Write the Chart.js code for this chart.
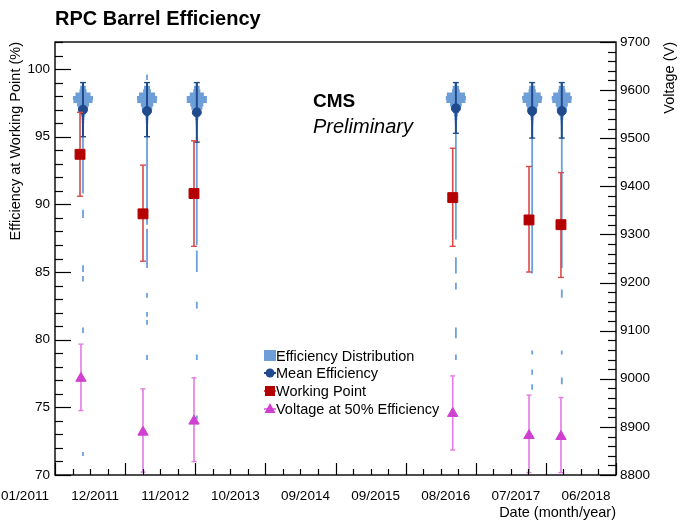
<!DOCTYPE html>
<html><head><meta charset="utf-8">
<script src="https://cdn.jsdelivr.net/npm/chart.js@4.4.1/dist/chart.umd.min.js"></script>
<style>html,body{margin:0;padding:0;background:#fff}canvas{display:block}</style>
</head><body>
<canvas id="c" width="681" height="522"></canvas>
<script>
// ---- data ----
const dateTickLabels = ['01/2011','12/2011','11/2012','10/2013','09/2014','09/2015','08/2016','07/2017','06/2018'];
const dateRange = [0, 89]; // months since 01/2011
const effRange = [70, 102];
const effTicks = [70, 75, 80, 85, 90, 95, 100];
const voltRange = [8800, 9700];
const voltTicks = [8800, 8900, 9000, 9100, 9200, 9300, 9400, 9500, 9600, 9700];

const meanDates = [4.44, 14.6, 22.5, 63.6, 75.7, 80.4];
const meanEff   = [97.0, 96.9, 96.8, 97.1, 96.9, 96.9];
const meanEffHi = [99.0, 99.0, 99.0, 99.0, 99.0, 99.0];
const meanEffLo = [95.0, 95.0, 94.6, 95.25, 94.9, 94.9];

const wpDates = [3.97, 13.96, 22.05, 63.1, 75.2, 80.27];
const wpEff   = [93.7, 89.3, 90.8, 90.5, 88.85, 88.5];
const wpHi    = [96.8, 92.9, 94.7, 94.15, 92.8, 92.35];
const wpLo    = [90.6, 85.8, 86.9, 86.9, 85.0, 84.6];

const v50Dates = [4.12, 13.96, 22.05, 63.1, 75.2, 80.27];
const v50      = [9001, 8889, 8912, 8928, 8882, 8880];
const v50Hi    = [9072, 8979, 9002, 9006, 8966, 8961];
const v50Lo    = [8934, 8806, 8828, 8852, 8805, 8805];

const distBins = [98.875, 98.625, 98.375, 98.125, 97.875, 97.625, 97.375, 97.125, 96.875, 96.625, 96.375, 96.125, 95.875, 95.625, 95.375, 95.125];
const distCounts = [
  [10, 28, 35, 75, 100, 95, 60, 50, 30, 22, 15, 12, 10, 9, 8, 8],
  [10, 30, 38, 80, 100, 98, 62, 52, 30, 22, 15, 12, 10, 9, 8, 8],
  [10, 28, 35, 70, 100, 100, 65, 55, 32, 24, 16, 12, 10, 9, 8, 8],
  [12, 32, 38, 90, 100, 95, 58, 48, 28, 20, 14, 11, 9, 8, 8, 8],
  [10, 30, 36, 85, 100, 95, 60, 50, 30, 22, 15, 12, 10, 9, 8, 8],
  [10, 30, 36, 85, 100, 95, 60, 50, 30, 22, 15, 12, 10, 9, 8, 8]
];
const distTails = [
  [[90.8, 95.0], [89.0, 89.6], [85.0, 85.5], [84.3, 84.7], [80.5, 80.9], [71.4, 71.7]],
  [[99.2, 99.6], [88.5, 95.0], [85.3, 88.2], [83.1, 83.45], [81.7, 82.05], [81.1, 81.46], [78.5, 78.87]],
  [[87.0, 95.0], [85.0, 86.6], [82.3, 82.8], [78.5, 78.9], [74.1, 74.4]],
  [[87.4, 95.0], [84.9, 86.1], [83.7, 84.2], [80.1, 80.9], [78.5, 78.9]],
  [[84.9, 95.0], [78.9, 79.2], [77.4, 77.8], [76.3, 76.7]],
  [[85.3, 95.0], [83.1, 83.7], [78.9, 79.2], [76.7, 77.2]]
];

// ---- build datasets ----
const FONT = "'Liberation Sans', Arial, Helvetica, sans-serif";
const C_DIST = 'rgba(98,150,212,0.92)';
const C_TAIL = 'rgb(108,160,222)';
const C_MEAN = '#1f4b8e';
const C_WP = '#b50000';
const C_WPL = '#d84a4a';
const C_V = '#d040d0';
const C_VL = '#e47ae4';

const pts = (xs, ys) => xs.map((x, i) => ({x, y: ys[i]}));
const segs = (xs, lo, hi) => {
  const d = [];
  xs.forEach((x, i) => { d.push({x, y: lo[i]}, {x, y: hi[i]}, {x, y: null}); });
  return d;
};
const distPeakHalf = 1.6; // x-units for peak bin half width
const maxCount = Math.max(...distCounts.flat());
const coreData = [];
distCounts.forEach((counts, c) => {
  const xc = meanDates[c];
  counts.forEach((n, b) => {
    if (n <= 0) return;
    const hw = n / maxCount * distPeakHalf;
    coreData.push({x: xc - hw, y: distBins[b]}, {x: xc + hw, y: distBins[b]}, {x: xc, y: null});
  });
});
const tailData = [];
distTails.forEach((list, c) => {
  const xc = meanDates[c];
  list.forEach(([lo, hi]) => { tailData.push({x: xc, y: lo}, {x: xc, y: hi}, {x: xc, y: null}); });
});

const datasets = [
  {label: 'Voltage at 50% Efficiency', data: pts(v50Dates, v50), yAxisID: 'y2', order: 1,
   pointStyle: 'triangle', pointRadius: 6, backgroundColor: C_V, borderColor: C_V, borderWidth: 1, showLine: false},
  {label: 'v50err', data: segs(v50Dates, v50Lo, v50Hi), yAxisID: 'y2', order: 2, showLine: true, spanGaps: false,
   borderColor: C_VL, borderWidth: 1.6, pointStyle: 'line', pointRadius: 2.5, pointBorderColor: C_VL, pointBorderWidth: 1.4},
  {label: 'Working Point', data: pts(wpDates, wpEff), yAxisID: 'y', order: 3,
   pointStyle: 'rect', pointRadius: 7, backgroundColor: C_WP, borderColor: C_WP, borderWidth: 1, showLine: false},
  {label: 'wperr', data: segs(wpDates, wpLo, wpHi), yAxisID: 'y', order: 4, showLine: true, spanGaps: false,
   borderColor: C_WPL, borderWidth: 1.6, pointStyle: 'line', pointRadius: 3, pointBorderColor: C_WPL, pointBorderWidth: 1.4},
  {label: 'Mean Efficiency', data: pts(meanDates, meanEff), yAxisID: 'y', order: 5,
   pointStyle: 'circle', pointRadius: 4.5, backgroundColor: C_MEAN, borderColor: C_MEAN, borderWidth: 1, showLine: false},
  {label: 'meanerr', data: segs(meanDates, meanEffLo, meanEffHi), yAxisID: 'y', order: 6, showLine: true, spanGaps: false,
   borderColor: C_MEAN, borderWidth: 2, pointStyle: 'line', pointRadius: 3, pointBorderColor: C_MEAN, pointBorderWidth: 1.4},
  {label: 'Efficiency Distribution', data: coreData, yAxisID: 'y', order: 7, showLine: true, spanGaps: false,
   borderColor: C_DIST, backgroundColor: C_DIST, borderWidth: 3.7, borderCapStyle: 'butt', pointRadius: 0},
  {label: 'disttail', data: tailData, yAxisID: 'y', order: 8, showLine: true, spanGaps: false,
   borderColor: C_TAIL, borderWidth: 1.8, borderCapStyle: 'butt', pointRadius: 0}
];

const decor = {
  id: 'decor',
  afterDraw(chart) {
    const {ctx, chartArea: a} = chart;
    const {x, y, y2} = chart.scales;
    ctx.save();
    ctx.strokeStyle = '#000';
    ctx.lineWidth = 1.2;
    const line = (x1, y1, x2, y2_) => { ctx.beginPath(); ctx.moveTo(x1, y1); ctx.lineTo(x2, y2_); ctx.stroke(); };
    // left axis ticks (inward)
    for (let v = effRange[0]; v <= effRange[1]; v += 1) {
      const py = Math.round(y.getPixelForValue(v)) + 0.5;
      line(a.left, py, a.left + (v % 5 === 0 ? 16 : 8), py);
    }
    // right axis ticks
    for (let v = voltRange[0]; v <= voltRange[1]; v += 20) {
      const py = Math.round(y2.getPixelForValue(v)) + 0.5;
      line(a.right, py, a.right - (v % 100 === 0 ? 16 : 8), py);
    }
    // bottom ticks
    const nMaj = dateTickLabels.length - 1, sub = 4;
    for (let k = 0; k <= nMaj * sub; k++) {
      const v = dateRange[0] + (dateRange[1] - dateRange[0]) * k / (nMaj * sub);
      const px = Math.round(x.getPixelForValue(v)) + 0.5;
      line(px, a.bottom, px, a.bottom - (k % sub === 0 ? 12 : 6));
    }
    // frame
    ctx.lineWidth = 1.4;
    ctx.strokeRect(a.left, a.top, a.right - a.left, a.bottom - a.top);

    // texts
    ctx.fillStyle = '#000';
    ctx.textBaseline = 'alphabetic';
    ctx.textAlign = 'left';
    ctx.font = 'bold 20px ' + FONT;
    ctx.fillText('RPC Barrel Efficiency', 55, 25);
    ctx.font = 'bold 19px ' + FONT;
    ctx.fillText('CMS', 313, 107);
    ctx.font = 'italic 20px ' + FONT;
    ctx.fillText('Preliminary', 313, 133);

    ctx.font = '14.5px ' + FONT;
    ctx.textAlign = 'right';
    ctx.fillText('Date (month/year)', a.right, 517);
    ctx.save();
    ctx.translate(16, a.top); ctx.rotate(-Math.PI / 2);
    ctx.textBaseline = 'middle';
    ctx.fillText('Efficiency at Working Point (%)', 0, 0);
    ctx.restore();
    ctx.save();
    ctx.translate(670, a.top); ctx.rotate(-Math.PI / 2);
    ctx.textBaseline = 'middle';
    ctx.fillText('Voltage (V)', 0, 0);
    ctx.restore();

    // legend
    const lx = 270, rows = [356, 373, 391, 409], tx = 276;
    ctx.textAlign = 'left'; ctx.textBaseline = 'middle';
    ctx.font = '14.5px ' + FONT;
    // row 1
    ctx.fillStyle = C_DIST; ctx.fillRect(lx - 6, rows[0] - 6, 12, 11);
    // row 2
    ctx.strokeStyle = C_MEAN; ctx.lineWidth = 2; line(lx - 6, rows[1], lx + 6, rows[1]);
    ctx.fillStyle = C_MEAN; ctx.beginPath(); ctx.arc(lx, rows[1], 4.5, 0, Math.PI * 2); ctx.fill();
    // row 3
    ctx.strokeStyle = C_WPL; line(lx - 6, rows[2], lx + 6, rows[2]);
    ctx.fillStyle = C_WP; ctx.fillRect(lx - 5, rows[2] - 5, 10, 10);
    // row 4
    ctx.strokeStyle = C_VL; line(lx - 6, rows[3], lx + 6, rows[3]);
    ctx.fillStyle = C_V; ctx.beginPath(); ctx.moveTo(lx, rows[3] - 6); ctx.lineTo(lx + 5.5, rows[3] + 4); ctx.lineTo(lx - 5.5, rows[3] + 4); ctx.closePath(); ctx.fill();
    ctx.fillStyle = '#000';
    ['Efficiency Distribution', 'Mean Efficiency', 'Working Point', 'Voltage at 50% Efficiency']
      .forEach((t, i) => ctx.fillText(t, tx, rows[i] + 1));
    ctx.restore();
  }
};

const tickFont = {family: FONT, size: 13.5};
new Chart(document.getElementById('c'), {
  type: 'scatter',
  data: {datasets},
  options: {
    responsive: false,
    animation: false,
    events: [],
    layout: {padding: {top: 42, left: 0, right: 0, bottom: 0}},
    plugins: {legend: {display: false}, tooltip: {enabled: false}, title: {display: false}},
    scales: {
      x: {
        type: 'linear', min: dateRange[0], max: dateRange[1],
        grid: {display: false, drawTicks: false}, border: {display: false},
        afterBuildTicks: s => { const n = dateTickLabels.length - 1; s.ticks = dateTickLabels.map((_, i) => ({value: dateRange[0] + (dateRange[1] - dateRange[0]) * i / n})); },
        afterFit: s => { s.height = 47; },
        ticks: {autoSkip: false, maxRotation: 0, padding: 13, labelOffset: -30, color: '#000', font: tickFont,
          callback: (v, i) => dateTickLabels[i]}
      },
      y: {
        type: 'linear', position: 'left', min: effRange[0], max: effRange[1],
        grid: {display: false, drawTicks: false}, border: {display: false},
        afterBuildTicks: s => { s.ticks = effTicks.map(v => ({value: v})); },
        afterFit: s => { s.width = 55; },
        ticks: {padding: 5, color: '#000', font: tickFont, callback: v => String(v)}
      },
      y2: {
        type: 'linear', position: 'right', min: voltRange[0], max: voltRange[1],
        grid: {display: false, drawTicks: false}, border: {display: false},
        afterBuildTicks: s => { s.ticks = voltTicks.map(v => ({value: v})); },
        afterFit: s => { s.width = 65; },
        ticks: {padding: 4, color: '#000', font: tickFont, callback: v => String(v)}
      }
    }
  },
  plugins: [decor]
});
</script>
</body></html>
